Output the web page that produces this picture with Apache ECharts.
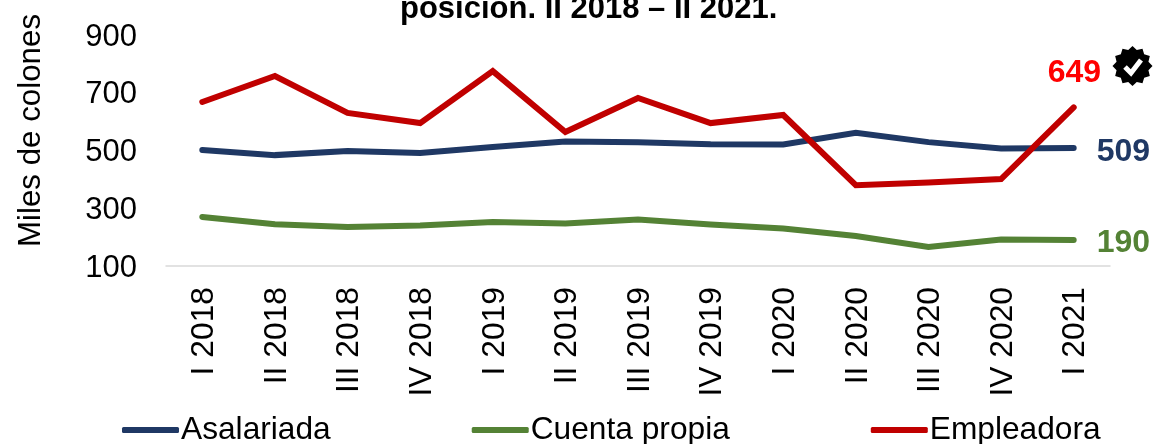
<!DOCTYPE html>
<html><head><meta charset="utf-8"><style>html,body{margin:0;padding:0;background:#fff}#c{width:1153px;height:444px}</style>
<script src="https://cdn.jsdelivr.net/npm/echarts@6/dist/echarts.min.js"></script></head><body><div id="c"></div><script>
const categories=["I 2018","II 2018","III 2018","IV 2018","I 2019","II 2019","III 2019","IV 2019","I 2020","II 2020","III 2020","IV 2020","I 2021"];
const asalariada=[502,484,498,491,512,531,529,522,521,561,529,507,509];
const cuentaPropia=[270,245,235,240,252,247,261,244,230,204,166,192,190];
const empleadora=[668,758,630,595,775,564,682,595,623,380,389,401,649];
const yTicks=[100,300,500,700,900];
const titleText="posición. II 2018 – II 2021.";
const font="'Liberation Sans',Arial,sans-serif";
function mk(name,data,color,labelColor,offset){
 return {name,type:'line',data,symbol:'none',smooth:false,
  lineStyle:{color,width:6,cap:'round',join:'miter'},itemStyle:{color},animation:false,
  endLabel:{show:true,fontFamily:font,fontSize:32,fontWeight:'bold',color:labelColor,formatter:'{c}',distance:5,offset}};
}
const badge=[];
for(let i=0;i<24;i++){const r=i%2?16.5:20,a=i*Math.PI/12-Math.PI/2;badge.push([1132.5+r*Math.cos(a),66+r*Math.sin(a)]);}
const chart=echarts.init(document.getElementById('c'),null,{renderer:'canvas'});
chart.setOption({
 animation:false,backgroundColor:'#fff',
 title:{text:titleText,left:395,top:-11,textStyle:{fontFamily:font,fontSize:31,fontWeight:'bold',color:'#000'}},
 legend:{left:117,top:409,itemWidth:57,itemHeight:6,itemGap:141,icon:'roundRect',
  textStyle:{fontFamily:font,fontSize:31.7,color:'#000',padding:[0,0,0,-3]},data:['Asalariada','Cuenta propia','Empleadora']},
 grid:{left:166,right:43,top:35,bottom:178},
 xAxis:{type:'category',data:categories,boundaryGap:true,
  axisLine:{lineStyle:{color:'#d9d9d9',width:1.5}},axisTick:{show:false},
  axisLabel:{rotate:90,interval:0,margin:21,formatter:'{a|{value}}',
   rich:{a:{fontFamily:font,fontSize:31.8,color:'#000',padding:[4,0,0,0]}}}},
 yAxis:{type:'value',min:yTicks[0],max:yTicks[yTicks.length-1],interval:200,
  name:'Miles de colones',nameLocation:'middle',nameGap:119,nameRotate:90,
  nameTextStyle:{fontFamily:font,fontSize:31.3,color:'#000',padding:[0,0,0,40]},
  axisLine:{show:false},axisTick:{show:false},splitLine:{show:false},
  axisLabel:{margin:29,formatter:'{a|{value}}',
   rich:{a:{fontFamily:font,fontSize:31,color:'#000',padding:[4,0,0,0]}}}},
 series:[
  mk('Asalariada',asalariada,'#1f3864','#1f3864',[18,4]),
  mk('Cuenta propia',cuentaPropia,'#548235','#548235',[18,3]),
  mk('Empleadora',empleadora,'#c00000','#ff0000',[-31,-34])
 ],
 graphic:[
  {type:'polygon',shape:{points:badge},style:{fill:'#000'},silent:true},
  {type:'polyline',shape:{points:[[1125,67],[1131,73],[1141,60]]},style:{stroke:'#fff',lineWidth:5,fill:null},silent:true}
 ]
});
</script></body></html>
